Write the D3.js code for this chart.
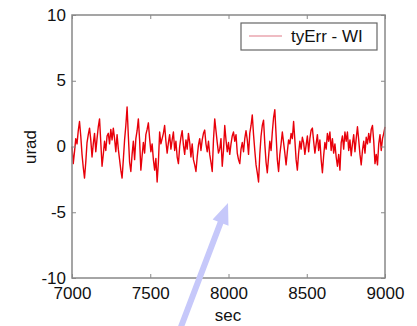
<!DOCTYPE html>
<html><head><meta charset="utf-8">
<script src="https://cdn.jsdelivr.net/npm/d3@7"></script>
<style>body{margin:0;background:#fff}svg{display:block}text{font-family:"Liberation Sans",Arial,sans-serif;fill:#111}</style>
</head><body>
<svg id="c" width="417" height="326"></svg>
<script>
const xTicks = [7000, 7500, 8000, 8500, 9000];
const yTicks = [-10, -5, 0, 5, 10];
const seriesName = "tyErr - WI";
const tStart = 7000, tStep = 8;
const tyErr = [
0,-1.3,-0.4,0.6,0.2,1.2,1.9,0.8,-0.6,-1.6,
-2.4,-1.2,0.3,0.9,1.4,0.5,-0.8,0.2,1.0,-0.4,
0.6,1.5,2.1,0.3,-1.5,-0.6,0.4,-0.3,0.8,1.0,
0.2,1.3,0.5,1.4,0.6,-0.4,0.9,-0.2,-1.0,-1.8,
-2.4,-1.0,0.5,1.6,3.0,0.8,-1.2,-1.9,-0.6,0.4,
-1.0,0.6,1.2,2.1,0.5,-1.8,-0.7,0.3,-0.5,0.9,
1.3,1.8,0.6,-0.4,0.2,-1.0,-1.8,-0.9,-2.7,-1.2,
1.1,0.2,0.6,1.0,1.6,0.4,-0.5,0.3,0.9,-0.2,
0.5,1.1,-0.3,0.4,-0.8,-1.3,0.0,0.7,1.2,0.1,
-0.6,0.5,-0.2,1.0,0.3,-0.8,0.2,-1.0,-1.4,-1.9,
-0.8,0.1,0.6,-0.3,0.5,1.0,1.25,0.2,-0.4,0.4,
-0.6,-1.2,-1.9,0.5,2.1,1.2,0.3,-0.5,-0.2,0.6,
-1.5,-0.3,1.6,0.5,-0.4,0.3,-0.6,0.2,0.8,1.1,
0.4,0.9,-0.5,-1.0,-1.3,-0.2,0.3,-0.4,0.6,1.2,
0.5,-0.6,1.0,1.6,2.4,0.9,-0.3,-1.4,-2.0,-2.7,
-0.6,0.8,1.6,2.0,0.2,-1.2,-2.0,-0.8,0.4,-0.3,
1.1,2.2,2.8,0.9,-1.0,-1.9,-0.6,0.2,1.1,0.3,
-0.5,-1.4,-0.4,0.5,0.2,1.0,0.6,1.9,0.5,-1.0,
-1.8,-0.5,0.4,-0.2,0.7,0.3,-0.6,0.1,0.8,-0.4,
0.6,1.25,1.4,0.4,-0.5,0.2,0.9,-0.3,0.5,-1.0,
-2.0,-0.7,0.3,-0.2,1.0,0.4,1.1,-0.3,0.6,-0.5,
0.2,-0.8,-1.5,-0.6,-1.8,0.3,0.8,-0.2,1.1,0.4,
1.1,-0.3,0.5,-0.7,0.2,0.9,-0.4,0.6,1.5,0.5,
-0.6,-1.4,-0.3,0.4,-0.5,0.7,0.2,1.0,0.3,1.3,
1.6,0.4,-1.3,-0.6,-1.4,0.2,0.9,-0.3,0.6,1.0,1.5
];

const svg = d3.select("#c");
const L = 72, R = 385, T = 15, B = 278;
const x = d3.scaleLinear().domain([7000, 9000]).range([L, R]);
const y = d3.scaleLinear().domain([-10, 10]).range([B, T]);
const axisColor = "#888";
const plain = d => String(d);

// data line
const line = d3.line().x((d, i) => x(tStart + i * tStep)).y(d => y(d));
svg.append("path").datum(tyErr).attr("d", line)
  .attr("fill", "none").attr("stroke", "#e8000a").attr("stroke-width", 1.4)
  .attr("stroke-linejoin", "round");

// axes with inward ticks
const fs = "17px";
const ax = svg.append("g").attr("transform", `translate(0,${B})`)
  .call(d3.axisBottom(x).tickValues(xTicks).tickSize(-4).tickPadding(9).tickFormat(plain));
const ay = svg.append("g").attr("transform", `translate(${L},0)`)
  .call(d3.axisLeft(y).tickValues(yTicks).tickSize(-4).tickPadding(6).tickFormat(plain));
const at = svg.append("g").attr("transform", `translate(0,${T})`)
  .call(d3.axisTop(x).tickValues(xTicks).tickSize(-4).tickFormat(""));
const ar = svg.append("g").attr("transform", `translate(${R},0)`)
  .call(d3.axisRight(y).tickValues(yTicks).tickSize(-4).tickFormat(""));
[ax, ay, at, ar].forEach(g => {
  g.select(".domain").remove();
  g.selectAll("line").attr("stroke", axisColor);
  g.selectAll("text").attr("font-size", fs).attr("fill", "#111")
    .style("font-family", '"Liberation Sans",Arial,sans-serif');
});
ax.selectAll("text").attr("y", 9).attr("dy", "0.71em");
ay.selectAll("text").attr("dy", "0.3em");
svg.append("rect").attr("x", L).attr("y", T).attr("width", R - L).attr("height", B - T)
  .attr("fill", "none").attr("stroke", axisColor).attr("stroke-width", 1.5);

// axis labels
svg.append("text").attr("x", 228).attr("y", 321).attr("text-anchor", "middle")
  .attr("font-size", fs).text("sec");
svg.append("text").attr("transform", "translate(36,147) rotate(-90)").attr("text-anchor", "middle")
  .attr("font-size", fs).text("urad");

// legend
svg.append("rect").attr("x", 241).attr("y", 23).attr("width", 136).attr("height", 27)
  .attr("fill", "#fff").attr("stroke", "#666").attr("stroke-width", 1.2);
svg.append("line").attr("x1", 249).attr("x2", 282).attr("y1", 36).attr("y2", 36)
  .attr("stroke", "#e07a88").attr("stroke-width", 1.2);
svg.append("text").attr("x", 291).attr("y", 42).attr("font-size", fs).text(seriesName);

// annotation arrow
const tip = [228, 203], tail = [176, 340];
const dx = tip[0] - tail[0], dy = tip[1] - tail[1], len = Math.hypot(dx, dy);
const ux = dx / len, uy = dy / len, px = -uy, py = ux;
const hl = 21, hw = 8.5, sw = 3;
const bx = tip[0] - ux * hl, by = tip[1] - uy * hl;
const pts = [
  [tail[0] + px * sw, tail[1] + py * sw],
  [bx + px * sw, by + py * sw],
  [bx + px * hw, by + py * hw],
  tip,
  [bx - px * hw, by - py * hw],
  [bx - px * sw, by - py * sw],
  [tail[0] - px * sw, tail[1] - py * sw]
];
svg.append("path").attr("d", "M" + pts.map(p => p.join(",")).join("L") + "Z")
  .attr("fill", "#c6c8fa").attr("stroke", "none");
</script>
</body></html>
